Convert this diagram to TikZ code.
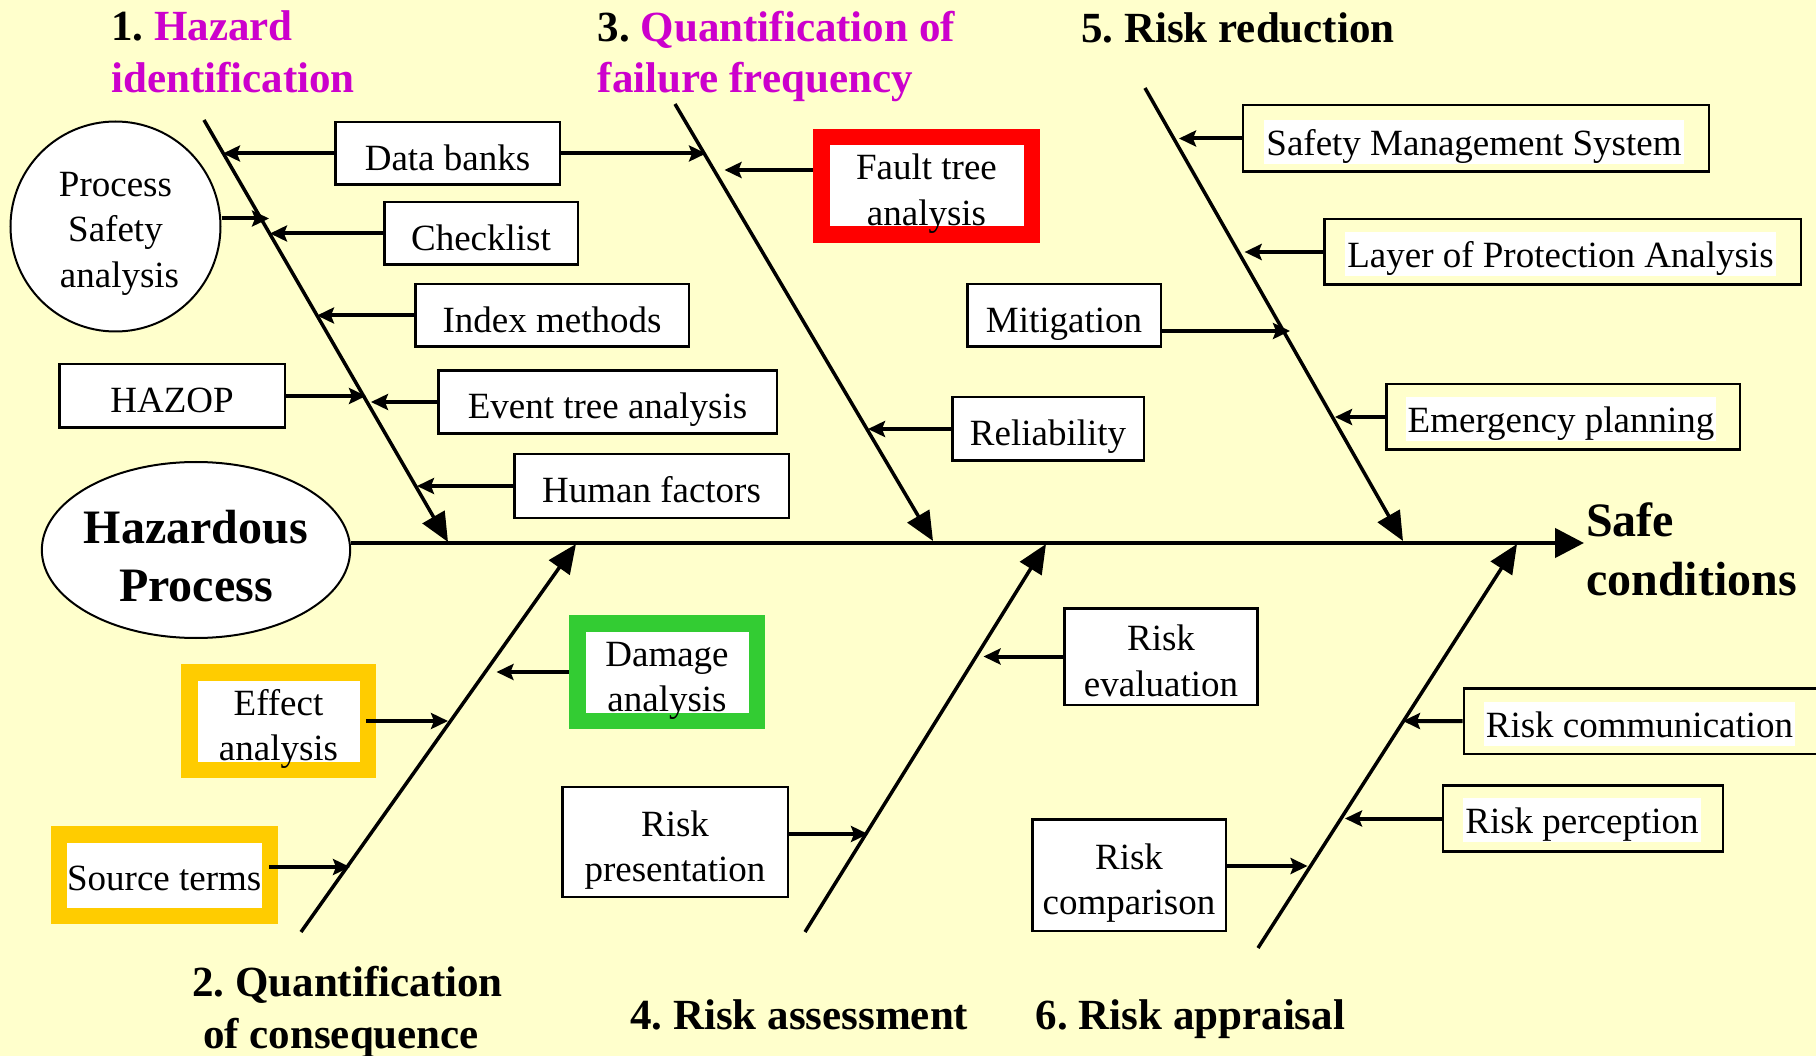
\documentclass[tikz,border=0pt]{standalone}
\usepackage{fontspec}
\setmainfont{Liberation Serif}
\usetikzlibrary{arrows.meta,shapes.geometric,calc}
\definecolor{paper}{HTML}{FFFFCC}
\definecolor{mag}{HTML}{CC00CC}
\definecolor{ambr}{HTML}{FFCC00}
\definecolor{grn}{HTML}{33CC33}
\definecolor{rd}{HTML}{FF0000}
% stacked lines; the box baseline is the last line
\newcommand{\twoline}[2]{\begin{tabular}[b]{@{}c@{}}#1\\#2\end{tabular}}
\newcommand{\threeline}[3]{\begin{tabular}[b]{@{}c@{}}#1\\#2\\#3\end{tabular}}
\frenchspacing
\begin{document}
\begin{tikzpicture}[x=1pt,y=-1pt,
  boxfont/.style={font=\fontsize{37}{45.5}\selectfont},
  plainbox/.style={boxfont, draw, line width=2.5pt, fill=white, inner sep=0pt, text height=34pt, text depth=0pt},
  tallbox/.style={boxfont, draw, line width=2.5pt, fill=white, inner sep=0pt, text height=79pt, text depth=0pt},
  framebox/.style={boxfont, draw=#1, line width=16.5pt, fill=white, inner sep=0pt, text height=79pt, text depth=0pt},
  outlinebox/.style={draw, line width=2.5pt, inner sep=0pt},
  whitetext/.style={boxfont, fill=white, inner xsep=2pt, inner ysep=0pt, text height=35.5pt, text depth=8.5pt},
  bone/.style={line width=3.5pt, -{Triangle[length=29pt,width=25pt]}},
  spine/.style={line width=4.5pt, -{Triangle[length=29pt,width=29pt]}},
  branch/.style={line width=4pt, -{Stealth[length=17pt,width=16pt,inset=3pt]}},
  title/.style={font=\fontsize{43}{52}\selectfont\bfseries, anchor=base west, inner sep=0pt},
  bigtitle/.style={font=\fontsize{48}{58}\selectfont\bfseries, anchor=base west, inner sep=0pt},
]
% canvas
\path[use as bounding box, fill=paper] (0,0) rectangle (1816,1056);
\clip (0,0) rectangle (1816,1056);

% ---- bones and spine ----
\coordinate (b1-top) at (204,120);  \coordinate (b1-end) at (448,542);
\coordinate (b3-top) at (675,104);  \coordinate (b3-end) at (933,541);
\coordinate (b5-top) at (1145,88);  \coordinate (b5-end) at (1403,541);
\coordinate (b2-bot) at (301,932);  \coordinate (b2-end) at (576,544);
\coordinate (b4-bot) at (805,932);  \coordinate (b4-end) at (1046,544);
\coordinate (b6-bot) at (1258,948); \coordinate (b6-end) at (1517,544);
\coordinate (spine-end) at (1584,543);

\draw[bone] (b1-top) -- (b1-end);
\draw[bone] (b3-top) -- (b3-end);
\draw[bone] (b5-top) -- (b5-end);
\draw[bone] (b2-bot) -- (b2-end);
\draw[bone] (b4-bot) -- (b4-end);
\draw[bone] (b6-bot) -- (b6-end);

% ---- head and tail ----
\node[ellipse, draw, line width=2pt, fill=white, inner xsep=-3pt, inner ysep=0pt,
      minimum width=306pt, minimum height=176pt,
      font=\fontsize{48}{58}\selectfont\bfseries, text height=102pt, text depth=0pt]
      (hp) at (196,550) {\twoline{Hazardous}{Process}};
\draw[spine] (hp.east |- spine-end) -- (spine-end);
\node[bigtitle] (safe) at (1586,536) {Safe};
\node[bigtitle] (cond) at (1586,595) {conditions};

% ---- category titles ----
\node[title] (t1a) at (111,41) {1. \textcolor{mag}{Hazard}};
\node[title, text=mag] (t1b) at (111,93) {identification};
\node[title] (t3a) at (597.5,42) {3. \textcolor{mag}{Quantification of}};
\node[title, text=mag] (t3b) at (597.5,93) {failure frequency};
\node[title] (t5) at (1081,43) {5. Risk reduction};
\node[title] (t2a) at (192,996) {2. Quantification};
\node[title] (t2b) at (203,1048) {of consequence};
\node[title] (t4) at (630,1029) {4. Risk assessment};
\node[title] (t6) at (1035.5,1029) {6. Risk appraisal};

% ---- 1. hazard identification ----
\node[circle, draw, line width=2pt, fill=white, inner sep=0pt, minimum size=210pt,
      boxfont, text height=122pt, text depth=0pt]
      (psa) at (115.5,226.5) {\threeline{Process}{Safety}{\hspace*{8pt}analysis}};
\node[plainbox, minimum width=224.5pt, minimum height=62.5pt] (db) at (447.5,153.5) {Data banks};
\node[plainbox, minimum width=193.5pt, minimum height=62.5pt] (ck) at (481,233.5) {Checklist};
\node[plainbox, minimum width=273.5pt, minimum height=62.5pt] (im) at (552,315.5) {Index methods};
\node[plainbox, minimum width=225.5pt, minimum height=63.5pt] (hz) at (172,396) {HAZOP};
\node[plainbox, minimum width=338.5pt, minimum height=63pt] (et) at (607.5,402) {Event tree analysis};
\node[plainbox, minimum width=274.5pt, minimum height=63.5pt] (hf) at (651.5,486) {Human factors};

% ---- 3. failure frequency ----
\node[framebox=rd, minimum width=210.5pt, minimum height=97.5pt] (ft) at (926.5,186) {\twoline{Fault tree}{analysis}};
\node[plainbox, minimum width=191.5pt, minimum height=63.5pt] (rel) at (1048,429) {Reliability};

% ---- 5. risk reduction ----
\node[outlinebox, minimum width=466pt, minimum height=66.5pt] (sms) at (1475.8,138.5) {};
\node[whitetext] (sms-t) at (1474,141.75) {Safety Management System};
\node[outlinebox, minimum width=476.5pt, minimum height=65.5pt] (lopa) at (1562.5,252) {};
\node[whitetext] (lopa-t) at (1560.5,254.5) {Layer of Protection Analysis};
\node[plainbox, minimum width=193.5pt, minimum height=62.5pt] (mit) at (1064,315.5) {Mitigation};
\node[outlinebox, minimum width=353.5pt, minimum height=65.5pt] (ep) at (1563,417) {};
\node[whitetext] (ep-t) at (1561,419) {Emergency planning};

% ---- 2. consequence ----
\node[framebox=ambr, minimum width=178.5pt, minimum height=97.5pt] (eff) at (278.5,721) {\twoline{Effect}{analysis}};
\node[framebox=ambr, minimum width=211pt, minimum height=81.5pt, text height=30pt] (st) at (164.25,875) {Source terms};
\node[framebox=grn, minimum width=179.5pt, minimum height=97.5pt] (dam) at (667,672) {\twoline{Damage}{analysis}};

% ---- 4. risk assessment ----
\node[tallbox, minimum width=225.5pt, minimum height=110pt] (rp) at (675,842) {\twoline{Risk}{presentation}};
\node[tallbox, minimum width=193pt, minimum height=96.5pt] (re) at (1161,656.5) {\twoline{Risk}{evaluation}};

% ---- 6. risk appraisal ----
\node[tallbox, minimum width=193.5pt, minimum height=111.5pt] (rcmp) at (1129,875) {\twoline{Risk}{comparison}};
\node[outlinebox, minimum width=364.9pt, minimum height=65.2pt] (rcm) at (1646.3,721.15) {};
\node[whitetext] (rcm-t) at (1639.5,723.85) {Risk communication};
\node[outlinebox, minimum width=279.8pt, minimum height=65.9pt] (rpc) at (1582.85,818.5) {};
\node[whitetext] (rpc-t) at (1582,820.35) {Risk perception};

% ---- arrow ends on the bones ----
\coordinate (t-db1) at (223,153.5);
\coordinate (t-db3) at (706,153.5);
\coordinate (t-psa) at (269,218.5);
\coordinate (t-ck) at (270,233.5);
\coordinate (t-im) at (317,315.5);
\coordinate (t-hz) at (366,396);
\coordinate (t-et) at (371,402);
\coordinate (t-hf) at (417,486);
\coordinate (t-ft) at (724.5,170);
\coordinate (t-rel) at (868,429);
\coordinate (t-sms) at (1179,138.5);
\coordinate (t-lopa) at (1244.6,252);
\coordinate (t-mit) at (1290,331);
\coordinate (t-ep) at (1335,417);
\coordinate (t-eff) at (448,721);
\coordinate (t-st) at (350,867);
\coordinate (t-dam) at (496.5,672);
\coordinate (t-rp) at (868,834);
\coordinate (t-re) at (983.5,656.5);
\coordinate (t-rcmp) at (1307.6,866);
\coordinate (t-rcm) at (1403,721);
\coordinate (t-rpc) at (1345,818.5);

% ---- branch arrows ----
\draw[branch] (db.west) -- (t-db1);
\draw[branch] (db.east) -- (t-db3);
\draw[branch] (psa.east |- t-psa) -- (t-psa);
\draw[branch] (ck.west) -- (t-ck);
\draw[branch] (im.west) -- (t-im);
\draw[branch] (hz.east) -- (t-hz);
\draw[branch] (et.west) -- (t-et);
\draw[branch] (hf.west) -- (t-hf);
\draw[branch] (ft.west |- t-ft) -- (t-ft);
\draw[branch] (rel.west) -- (t-rel);
\draw[branch] (sms.west) -- (t-sms);
\draw[branch] (lopa.west) -- (t-lopa);
\draw[branch] (mit.east |- t-mit) -- (t-mit);
\draw[branch] (ep.west) -- (t-ep);
\draw[branch] ($(eff.east)+(-10,0)$) -- (t-eff);
\draw[branch] ($(st.east |- t-st)+(-9,0)$) -- (t-st);
\draw[branch] (dam.west) -- (t-dam);
\draw[branch] (rp.east |- t-rp) -- (t-rp);
\draw[branch] (re.west) -- (t-re);
\draw[branch] (rcmp.east |- t-rcmp) -- (t-rcmp);
\draw[branch] (rcm.west) -- (t-rcm);
\draw[branch] (rpc.west) -- (t-rpc);
\end{tikzpicture}
\end{document}
